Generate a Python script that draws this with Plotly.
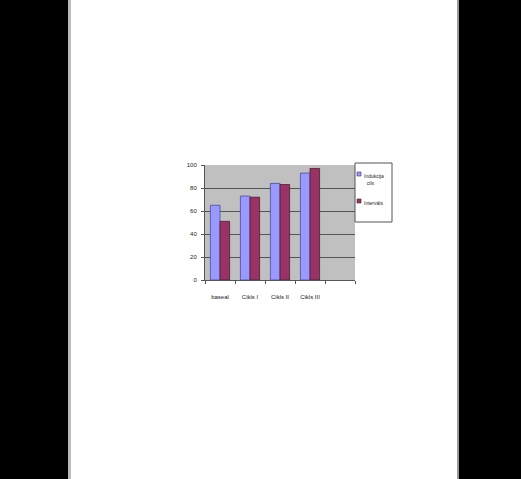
import plotly.graph_objects as go

categories = ["baseal", "Cikls I", "Cikls II", "Cikls III", " "]
series_a_name = "Indukcija<br>  cils"
series_b_name = "Intervāls"
series_a = [65, 73, 84, 93]
series_b = [51, 72, 83, 97]
y_ticks = [0, 20, 40, 60, 80, 100]
color_a = "#9999FF"
color_b = "#993366"

W, H = 521, 479
L, R, T, B = 205, 355, 165, 280  # plot area in pixels
pw, ph = R - L, B - T

def px(x):
    return (x - L) / pw

def py(y):
    return (B - y) / ph

fig = go.Figure()
fig.add_trace(go.Bar(x=categories[:4], y=series_a, name=series_a_name, showlegend=False,
                     marker=dict(color=color_a, line=dict(color="#4a4a9a", width=0.8))))
fig.add_trace(go.Bar(x=categories[:4], y=series_b, name=series_b_name, showlegend=False,
                     marker=dict(color=color_b, line=dict(color="#4d1a33", width=0.8))))

shapes = [
    dict(type="rect", xref="paper", yref="paper", x0=px(-5), x1=px(68), y0=py(H + 10), y1=py(-10),
         fillcolor="black", line=dict(width=0), layer="below"),
    dict(type="rect", xref="paper", yref="paper", x0=px(68), x1=px(71), y0=py(H + 10), y1=py(-10),
         fillcolor="#bbbbbb", line=dict(width=0), layer="below"),
    dict(type="rect", xref="paper", yref="paper", x0=px(459), x1=px(526), y0=py(H + 10), y1=py(-10),
         fillcolor="black", line=dict(width=0), layer="below"),
    dict(type="rect", xref="paper", yref="paper", x0=px(457), x1=px(459), y0=py(H + 10), y1=py(-10),
         fillcolor="#999999", line=dict(width=0), layer="below"),
    # legend box
    dict(type="rect", xref="paper", yref="paper", x0=px(355), x1=px(392), y0=py(222), y1=py(163),
         fillcolor="white", line=dict(color="#555555", width=1)),
    # legend swatches
    dict(type="rect", xref="paper", yref="paper", x0=px(357), x1=px(361), y0=py(176), y1=py(172),
         fillcolor=color_a, line=dict(color="#333366", width=0.6)),
    dict(type="rect", xref="paper", yref="paper", x0=px(357), x1=px(361), y0=py(203), y1=py(199),
         fillcolor=color_b, line=dict(color="#4d1a33", width=0.6)),
]

annotations = [
    dict(xref="paper", yref="paper", x=px(362), y=py(171), xanchor="left", yanchor="top",
         text=series_a_name, showarrow=False, align="left", font=dict(size=5, color="#222222")),
    dict(xref="paper", yref="paper", x=px(362), y=py(198), xanchor="left", yanchor="top",
         text=series_b_name, showarrow=False, align="left", font=dict(size=5, color="#222222")),
]

fig.update_layout(
    width=W, height=H,
    margin=dict(l=L, r=W - R, t=T, b=H - B),
    paper_bgcolor="white",
    plot_bgcolor="#C0C0C0",
    barmode="group",
    bargap=0.36,
    bargroupgap=0.0,
    shapes=shapes,
    annotations=annotations,
    font=dict(family="Liberation Sans, Arial", size=6, color="#222222"),
    showlegend=False,
    xaxis=dict(type="category", categoryorder="array", categoryarray=categories,
               range=[-0.5, 4.5], tickson="boundaries", ticks="outside", ticklen=3,
               tickcolor="#555555", showline=True, linecolor="#555555", linewidth=1,
               showgrid=False, ticklabelstandoff=11, tickfont=dict(size=6)),
    yaxis=dict(range=[0, 100], tickvals=y_ticks, ticks="outside", ticklen=3,
               tickcolor="#555555", showline=True, linecolor="#555555", linewidth=1,
               showgrid=True, gridcolor="#555555", gridwidth=1, zeroline=False,
               ticklabelstandoff=3, tickfont=dict(size=6)),
)

fig.write_html("out.html")
